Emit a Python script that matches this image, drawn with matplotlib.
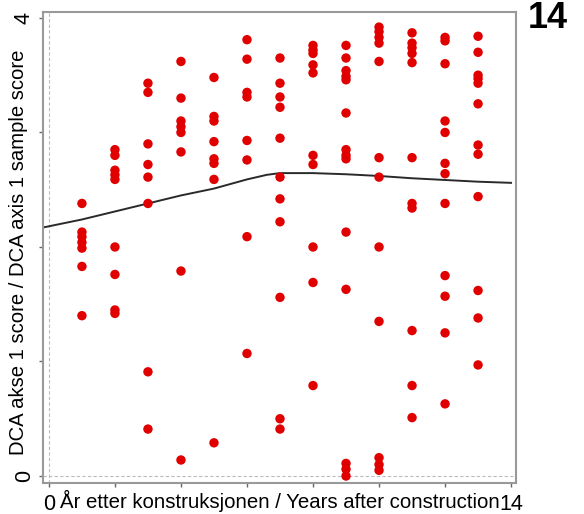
import numpy as np
import matplotlib
matplotlib.use("Agg")
import matplotlib.pyplot as plt

plt.rcParams['font.family'] = ['Liberation Sans', 'DejaVu Sans']

# DCA axis 1 scores per year after construction
years = [1, 2, 3, 4, 5, 6, 7, 8, 9, 10, 11, 12, 13]
scores = [
    [2.38, 2.13, 2.09, 2.04, 1.99, 1.83, 1.40],
    [2.85, 2.80, 2.67, 2.63, 2.59, 2.00, 1.76, 1.45, 1.42],
    [3.43, 3.35, 2.90, 2.72, 2.61, 2.38, 0.91, 0.41],
    [3.62, 3.30, 3.10, 3.05, 3.00, 2.83, 1.79, 0.14],
    [3.48, 3.14, 3.10, 2.92, 2.77, 2.73, 2.59, 0.29],
    [3.81, 3.64, 3.35, 3.31, 2.93, 2.76, 2.09, 1.07],
    [3.65, 3.43, 3.31, 3.22, 2.95, 2.61, 2.42, 2.22, 1.56, 0.50, 0.41],
    [3.76, 3.72, 3.69, 3.59, 3.52, 2.80, 2.72, 2.00, 1.69, 0.79],
    [3.76, 3.65, 3.54, 3.49, 3.46, 3.17, 2.85, 2.80, 2.77, 2.13, 1.63, 0.11, 0.06, 0.00],
    [3.92, 3.88, 3.83, 3.78, 3.62, 2.78, 2.61, 2.00, 1.35, 0.16, 0.10, 0.05],
    [3.87, 3.78, 3.74, 3.69, 3.61, 2.78, 2.38, 2.34, 1.27, 0.79, 0.51],
    [3.83, 3.80, 3.60, 3.10, 3.00, 2.73, 2.64, 2.38, 1.75, 1.57, 1.25, 0.63],
    [3.84, 3.70, 3.50, 3.47, 3.43, 3.25, 2.89, 2.81, 2.44, 1.62, 1.38, 0.97],
]

# smoothed trend line
trend_x = [-0.18, 1, 2, 3, 4, 5, 6, 6.6, 7, 8, 9, 10, 11, 12, 13, 14]
trend_y = [2.17, 2.24, 2.31, 2.38, 2.45, 2.51, 2.59, 2.63, 2.645, 2.645, 2.635, 2.62, 2.60, 2.585, 2.57, 2.56]

fig = plt.figure(figsize=(5.84, 5.14), dpi=100)
ax = fig.add_axes([0.0736, 0.0603, 0.81, 0.9164])

# dotted reference lines at zero
ax.axhline(0, color='#bbbbbb', lw=0.8, ls=(0, (3, 2)), zorder=0)
ax.axvline(0, color='#bbbbbb', lw=0.8, ls=(0, (3, 2)), zorder=0)

for x, ys in zip(years, scores):
    ax.scatter([x] * len(ys), ys, s=46, color='#e00000', edgecolors='none', zorder=3)

ax.plot(trend_x, trend_y, color='#2a2a2a', lw=1.4, zorder=2)

ax.set_xlim(-0.18, 14.15)
ax.set_ylim(-0.061, 4.052)

ax.set_xticks(np.arange(0, 15, 2))
ax.set_xticklabels(['0', '', '', '', '', '', '', '14'])
ax.set_yticks([0, 1, 2, 3, 4])
ax.set_yticklabels(['0', '', '', '', '4'], rotation=90, va='center')

ax.tick_params(axis='both', length=3, width=1, color='#666666', labelsize=15.5)
ax.tick_params(axis='x', pad=5)
ax.tick_params(axis='y', pad=3)

for s in ax.spines.values():
    s.set_color('#999999')
    s.set_linewidth(1.5)

ax.set_xlabel('År etter konstruksjonen / Years after construction', fontsize=14.7, va='top')
ax.xaxis.set_label_coords(0.5, -0.015)
ax.set_ylabel('DCA akse 1 score / DCA axis 1 sample score', fontsize=14.6)
ax.yaxis.set_label_coords(-0.032, 0.49)

fig.text(0.904, 0.998, '14', fontsize=26, fontweight='bold', ha='left', va='top')

fig.savefig('out.png', dpi=100)
